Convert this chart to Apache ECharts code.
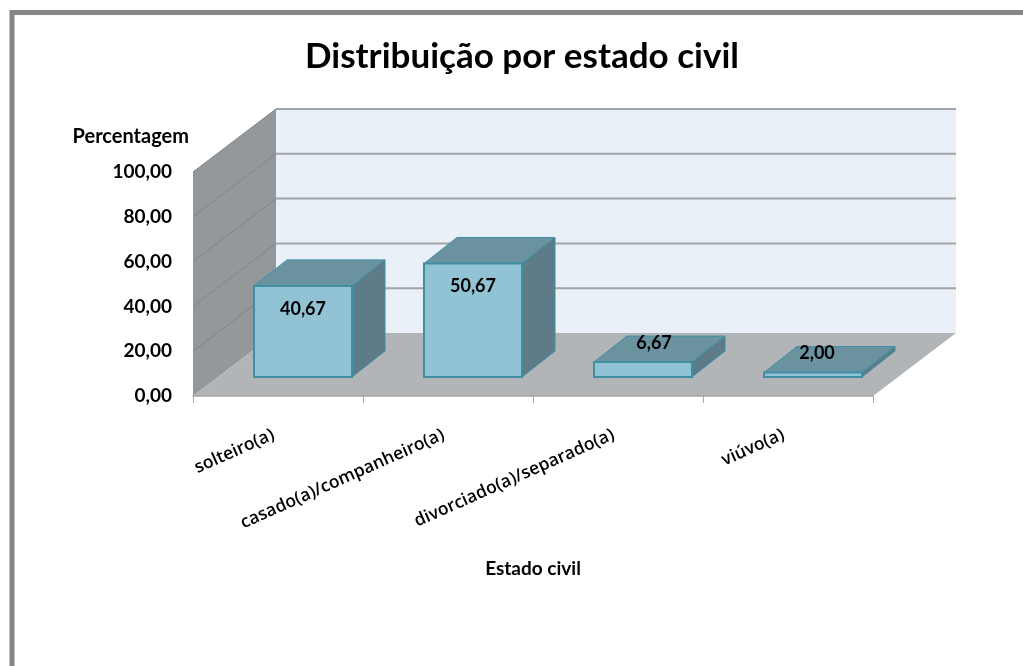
<!DOCTYPE html>
<html>
<head>
<meta charset="utf-8">
<title>Distribuição por estado civil</title>
<script src="https://cdn.jsdelivr.net/npm/echarts@6/dist/echarts.min.js"></script>
<style>
  html, body { margin: 0; padding: 0; background: #fff; }
  #chart { width: 1023px; height: 666px; }
</style>
</head>
<body>
<div id="chart"></div>
<script>
var categories = ['solteiro(a)', 'casado(a)/companheiro(a)', 'divorciado(a)/separado(a)', 'viúvo(a)'];
var percentages = [40.67, 50.67, 6.67, 2.00];
var yTicks = [0, 20, 40, 60, 80, 100];

// fake 3d: how far the back wall and the bars are pushed, in px
var WALL_DX = 83, WALL_DY = 63;
var BAR_X = 25, BAR_Y = 19, BAR_DX = 33, BAR_DY = 26, BAR_W = 98;
var FONT = 'Lato, "Open Sans", sans-serif';

function fmt(v) {
  return v.toFixed(2).replace('.', ',');
}

function poly(points, fill, stroke, width) {
  return {
    type: 'polygon',
    shape: { points: points },
    style: { fill: fill, stroke: stroke || null, lineWidth: width || 0 }
  };
}

function renderWalls(params, api) {
  var band = api.size([1, 0])[0];
  var bottom = api.coord([0, 0]);
  var top = api.coord([0, 100]);
  var right = api.coord([categories.length - 1, 0]);
  var x0 = bottom[0] - band / 2, x1 = right[0] + band / 2;
  var y0 = bottom[1], y1 = top[1];
  return {
    type: 'group',
    children: [
      poly([[x0 + WALL_DX, y1 - WALL_DY], [x1 + WALL_DX, y1 - WALL_DY], [x1 + WALL_DX, y0 - WALL_DY], [x0 + WALL_DX, y0 - WALL_DY]], '#e9f0f7'),
      poly([[x0, y1], [x0 + WALL_DX, y1 - WALL_DY], [x0 + WALL_DX, y0 - WALL_DY], [x0, y0]], '#93989a'),
      poly([[x0, y0], [x0 + WALL_DX, y0 - WALL_DY], [x1 + WALL_DX, y0 - WALL_DY], [x1, y0]], '#b2b5b8')
    ]
  };
}

function renderGridline(params, api) {
  var band = api.size([1, 0])[0];
  var p = api.coord([0, api.value(0)]);
  var right = api.coord([categories.length - 1, 0]);
  var x0 = p[0] - band / 2, x1 = right[0] + band / 2, y = p[1];
  return {
    type: 'group',
    children: [
      { type: 'line', shape: { x1: x0, y1: y, x2: x0 + WALL_DX, y2: y - WALL_DY }, style: { stroke: '#7f8486', lineWidth: 1 } },
      { type: 'line', shape: { x1: x0 + WALL_DX, y1: y - WALL_DY, x2: x1 + WALL_DX, y2: y - WALL_DY }, style: { stroke: '#a2a5a6', lineWidth: 2 } }
    ]
  };
}

function renderBar(params, api) {
  var base = api.coord([api.value(0), 0]);
  var head = api.coord([api.value(0), api.value(1)]);
  var xl = base[0] + BAR_X - BAR_W / 2, xr = xl + BAR_W;
  var yb = base[1] - BAR_Y, yt = head[1] - BAR_Y;
  var edge = '#3f8ea3';
  var v = api.value(1);
  // label sits inside tall bars, on the top face of short ones
  var lx = (xl + xr) / 2 + (v > 20 ? 0 : (v > 5 ? 11 : 4));
  var ly = v > 20 ? yt + 23 : yt - 19;
  return {
    type: 'group',
    children: [
      poly([[xr, yb], [xr + BAR_DX, yb - BAR_DY], [xr + BAR_DX, yt - BAR_DY], [xr, yt]], '#5d7c87', edge, 1),
      poly([[xl, yt], [xr, yt], [xr + BAR_DX, yt - BAR_DY], [xl + BAR_DX, yt - BAR_DY]], '#6b929f', edge, 1),
      poly([[xl, yb], [xr, yb], [xr, yt], [xl, yt]], '#92c3d5', edge, 2),
      {
        type: 'text',
        style: {
          x: lx, y: ly, text: fmt(v), align: 'center', verticalAlign: 'middle',
          font: 'bold 18px ' + FONT, fill: '#000'
        }
      }
    ]
  };
}

var chart = echarts.init(document.getElementById('chart'), null, { renderer: 'canvas' });
chart.setOption({
  animation: false,
  backgroundColor: '#fff',
  title: {
    text: 'Distribuição por estado civil',
    left: 517,
    top: 34,
    textAlign: 'center',
    textStyle: { fontFamily: FONT, fontWeight: 'bold', fontSize: 35, color: '#000' }
  },
  graphic: [{
    type: 'rect',
    shape: { x: 12, y: 12.5, width: 2000, height: 2000 },
    style: { fill: 'none', stroke: '#868686', lineWidth: 5 },
    silent: true
  }],
  grid: { left: 193, right: 150, top: 172, bottom: 270 },
  xAxis: {
    type: 'category',
    z: 5,
    data: categories,
    name: 'Estado civil',
    nameLocation: 'middle',
    nameGap: 163,
    nameTextStyle: { fontFamily: FONT, fontWeight: 'bold', fontSize: 19, color: '#000' },
    axisLine: { show: true, lineStyle: { color: '#a6a6a6', width: 1.5 } },
    axisTick: { show: true, length: 7, lineStyle: { color: '#a6a6a6', width: 1 } },
    axisLabel: {
      interval: 0,
      rotate: 24,
      margin: 36,
      padding: [0, 5, 0, 0],
      fontFamily: '"Open Sans", sans-serif',
      fontSize: 17.5,
      fontWeight: 600,
      color: '#000'
    }
  },
  yAxis: {
    type: 'value',
    min: 0,
    max: 100,
    interval: 20,
    name: 'Percentagem',
    nameLocation: 'end',
    nameGap: 25,
    nameTextStyle: { fontFamily: FONT, fontWeight: 'bold', fontSize: 20, color: '#000', align: 'right', padding: [0, 4, 0, 0] },
    axisLine: { show: false },
    axisTick: { show: false },
    splitLine: { show: false },
    axisLabel: {
      margin: 21,
      fontFamily: FONT,
      fontSize: 19,
      fontWeight: 'bold',
      color: '#000',
      formatter: function (v) { return fmt(v); }
    }
  },
  series: [
    {
      type: 'custom',
      renderItem: renderWalls,
      data: [[0, 0]],
      encode: { x: 0, y: 1 },
      clip: false,
      silent: true,
      z: 1
    },
    {
      type: 'custom',
      renderItem: renderGridline,
      data: yTicks.filter(function (t) { return t > 0; }).map(function (t) { return [t]; }),
      clip: false,
      silent: true,
      z: 2
    },
    {
      type: 'custom',
      renderItem: renderBar,
      data: percentages.map(function (v, i) { return [i, v]; }),
      encode: { x: 0, y: 1 },
      clip: false,
      z: 3
    }
  ]
});
</script>
</body>
</html>
